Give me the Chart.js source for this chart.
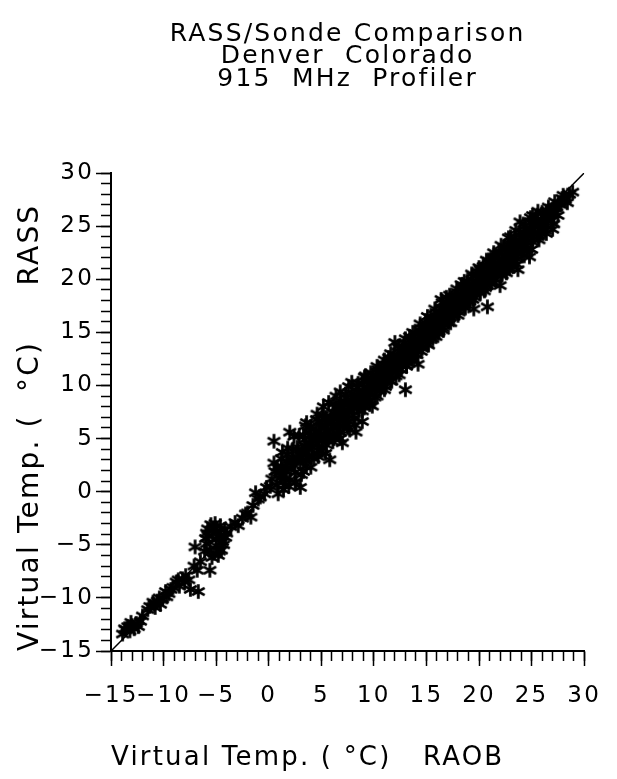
<!DOCTYPE html>
<html><head><meta charset="utf-8">
<script src="https://cdn.jsdelivr.net/npm/chart.js@4/dist/chart.umd.min.js"></script>
<style>html,body{margin:0;padding:0;background:#fff;}canvas{display:block;}</style>
</head><body>
<canvas id="c" width="617" height="779"></canvas>
<script>
const titleLines = ['RASS/Sonde Comparison', 'Denver  Colorado', '915  MHz  Profiler'];
const xAxisTitle = 'Virtual Temp. ( \u00B0C)   RAOB';
const yAxisTitle = 'Virtual Temp. (  \u00B0C)     RASS';
const axisMin = -15, axisMax = 30;
const tickValues = [-15, -10, -5, 0, 5, 10, 15, 20, 25, 30];
const tickLabels = ['\u221215', '\u221210', '\u22125', '0', '5', '10', '15', '20', '25', '30'];
const oneToOneX = [-15, 30];
const oneToOneY = [-15, 30];

// cold end (below about -3 C)
const raobCold = [-13.9,-13.6,-13.4,-13.2,-13.0,-12.8,-12.6,-12.4,-12.0,-11.3,
  -11.0,-10.8,-10.6,-10.3,-10.1,-9.8,-9.5,-9.1,-8.8,-8.5,
  -8.2,-7.9,-7.6,-7.45,-6.7,-7.1,-6.8,-6.5,-5.6,-7.0,
  -5.8,-5.5,-5.1,-4.6,-4.2,-5.7,-5.9,-5.6,-5.2,-4.7,
  -4.3,-4.1,-5.0,-5.3,-4.6,-4.5,-5.4,-4.9,-6.1,-5.0,
  -13.7,-13.1,-12.2,-11.5,-10.9,-10.4,-9.7,-9.3,-8.6,-8.0,
  -5.9,-4.4,-5.2,-4.8,-6.0,-4.0];
const rassCold = [-13.4,-13.0,-12.7,-13.1,-12.6,-12.9,-12.4,-12.7,-11.7,-10.8,
  -10.4,-10.9,-10.3,-10.6,-10.1,-9.4,-9.6,-9.0,-8.5,-8.9,
  -8.2,-7.9,-8.3,-9.2,-9.4,-7.0,-7.4,-6.6,-7.4,-5.2,
  -3.5,-3.1,-3.0,-3.2,-3.6,-4.2,-4.9,-5.5,-5.8,-5.6,
  -5.0,-4.3,-4.5,-4.0,-4.1,-5.5,-6.2,-3.7,-5.6,-5.1,
  -12.9,-12.3,-12.2,-11.1,-10.6,-10.0,-9.9,-9.2,-8.3,-8.5,
  -3.9,-4.7,-3.4,-6.0,-4.4,-3.9];

// main band including the scattered points
const raobBand = [-3.6,-3.2,-2.9,-2.5,-2.2,-2.0,-1.7,-1.5,-1.25,-1.0,
  -0.8,-0.4,-0.2,0.15,0.3,0.5,0.5,0.8,1.0,1.2,
  1.4,1.6,1.8,2.0,2.1,2.3,2.5,2.7,3.0,3.0,
  3.2,3.4,3.6,3.5,3.8,4.0,4.1,4.3,4.55,4.5,
  4.7,4.9,5.0,5.2,5.3,5.5,5.6,5.8,5.9,6.1,
  6.2,6.4,6.5,6.7,6.8,7.0,7.0,7.2,7.3,7.5,
  7.6,7.7,7.9,8.0,8.2,8.3,8.4,8.6,8.7,8.9,
  9.0,9.2,9.3,9.5,9.6,9.85,9.9,10.1,10.2,10.4,
  10.6,10.7,10.9,11.0,11.2,11.4,11.5,11.7,11.8,12.0,
  12.0,12.2,12.4,12.5,12.7,12.8,13.0,13.0,13.1,13.3,
  13.4,13.6,13.7,13.9,14.0,14.2,14.2,14.4,14.5,14.7,
  14.8,15.0,15.1,15.3,15.5,15.6,15.8,15.9,16.1,16.2,
  16.4,16.4,16.6,16.7,16.9,16.9,17.1,17.2,17.4,17.5,
  17.7,17.8,18.0,18.1,18.3,18.4,18.6,18.7,18.9,19.0,
  19.2,19.4,19.5,19.6,19.8,19.9,20.1,20.2,20.4,20.5,
  20.7,20.8,20.9,21.1,21.2,21.4,21.6,21.7,21.9,22.0,
  22.1,22.3,22.5,22.6,22.8,22.9,23.0,23.2,23.3,23.5,
  23.6,23.7,23.9,23.9,24.1,24.3,24.5,24.8,24.8,25.1,
  25.2,25.4,25.6,25.9,26.1,26.4,26.4,26.7,27.0,27.2,
  27.6,27.9,28.2,28.6,28.9];
const rassBand = [-3.3,-2.9,-3.2,-2.5,-2.1,-2.0,-2.4,-1.3,-0.1,-0.7,
  -0.5,-0.2,0.4,0.5,1.2,2.7,4.75,0.6,1.8,2.4,
  0.2,1.2,3.5,5.6,2.2,3.0,1.8,4.2,0.4,2.8,
  3.6,4.9,6.5,2.4,3.3,5.2,4.2,3.1,6.8,5.6,
  4.5,3.8,6.1,8.0,5.1,4.4,6.6,3.0,5.8,7.4,
  5.0,9.0,6.3,7.8,5.6,4.6,7.0,8.4,6.4,7.6,
  9.9,5.8,8.6,7.2,8.9,5.6,7.9,9.4,8.2,6.6,
  9.0,10.9,8.5,9.8,9.1,8.05,10.4,9.6,10.8,10.1,
  11.2,9.9,10.7,11.6,10.5,11.9,11.0,12.4,11.3,14.05,
  12.0,11.6,12.8,12.1,13.4,12.5,9.6,13.1,12.2,13.8,
  12.9,14.2,13.2,14.0,13.4,12.0,14.6,13.9,15.1,14.2,
  15.4,14.7,15.6,14.6,15.9,15.0,16.3,15.2,16.0,15.1,
  18.1,16.6,15.8,16.9,18.3,16.2,17.4,16.4,17.8,16.9,
  18.4,17.1,18.1,17.3,19.5,18.2,17.6,18.9,18.0,19.4,
  18.4,19.8,17.2,18.9,20.3,19.2,20.9,19.6,20.4,18.9,
  21.2,17.4,20.0,21.6,19.7,20.8,22.2,20.4,21.4,19.4,
  22.5,21.0,22.2,20.6,23.2,21.8,24.0,22.6,21.2,23.4,
  22.1,20.9,25.4,23.9,22.8,24.4,23.4,22.1,24.8,26.0,
  24.3,25.4,24.0,25.6,24.9,26.4,25.0,26.3,24.7,26.7,
  27.1,27.6,27.5,28.0,28.2];

// dense core near the 1:1 line
const raobCore = [1.1,1.3,1.5,1.7,1.9,2.2,2.4,2.6,2.8,3.1,
  3.3,3.5,3.7,3.9,4.1,4.3,4.4,4.6,4.8,5.0,
  5.1,5.3,5.5,5.7,5.8,6.0,6.2,6.3,6.5,6.6,
  6.8,7.0,7.1,7.3,7.5,7.6,7.8,8.0,8.1,8.3,
  8.5,8.6,8.8,9.0,9.1,9.3,9.5,9.7,9.8,10.0,
  10.2,10.3,10.5,10.7,10.8,11.0,11.2,11.3,11.5,11.7,
  11.8,12.0,12.2,12.3,12.5,12.7,12.8,13.0,13.2,13.3,
  13.5,13.7,13.8,14.0,14.2,14.3,14.5,14.7,14.8,15.0,
  15.2,15.3,15.5,15.7,15.8,16.0,16.2,16.3,16.5,16.7,
  16.8,17.0,17.2,17.3,17.5,17.7,17.8,18.0,18.2,18.3,
  18.5,18.7,18.8,19.0,19.2,19.3,19.5,19.7,19.8,20.0,
  20.2,20.3,20.5,20.7,20.8,21.0,21.2,21.3,21.5,21.7,
  21.8,22.0,22.2,22.4,22.6,22.8,23.0,23.2,23.4,23.6,
  23.8,24.0,24.2,24.4,24.6,24.9,25.1,25.3,25.6,25.8,
  26.0,26.2,26.5,26.8,27.1,27.4,27.8];
const rassCore = [1.3,1.6,2.0,1.9,2.6,2.9,2.5,3.3,3.1,3.9,
  3.4,4.3,4.0,4.6,4.9,4.4,5.3,5.0,5.7,5.4,
  4.8,6.1,5.7,6.4,5.3,6.6,6.1,7.0,6.9,7.4,
  6.7,7.5,7.9,7.2,8.2,7.5,8.0,8.5,8.1,8.7,
  8.3,9.0,8.8,9.5,9.2,9.7,9.3,10.1,9.7,10.3,
  10.0,10.6,10.4,10.9,10.5,11.1,11.3,11.0,11.7,11.5,
  12.0,11.8,12.3,12.0,12.6,12.4,13.0,12.8,13.3,13.0,
  13.6,13.5,13.9,13.8,14.3,14.0,14.6,14.5,14.9,15.0,
  15.3,15.1,15.5,15.5,15.9,15.8,16.3,16.0,16.4,16.4,
  16.9,16.8,17.2,17.0,17.5,17.4,17.8,17.7,18.2,17.9,
  18.5,18.3,18.7,18.7,19.2,18.9,19.4,19.2,19.7,19.6,
  20.1,19.8,20.0,20.3,20.7,20.3,21.0,20.7,21.2,21.0,
  21.5,21.2,21.8,21.5,22.0,22.4,22.1,23.0,22.7,23.2,
  23.0,23.6,23.3,23.8,24.2,23.9,24.6,25.0,25.1,24.7,
  25.5,25.9,25.6,26.1,26.2,26.8,27.0];

// points along both edges of the band
const raobEdge = [0.6,0.9,1.2,1.5,1.7,2.0,2.3,2.5,2.8,3.1,
  3.3,3.6,3.8,4.1,4.3,4.6,4.8,5.1,5.4,5.6,
  5.9,6.1,6.4,6.6,6.9,7.1,7.4,7.6,7.9,8.1,
  8.4,8.6,8.9,9.1,9.4,9.6,9.9,10.1,10.4,10.6,
  10.9,11.1,11.4,11.6,11.9,12.1,12.4,12.6,12.9,13.1,
  13.4,13.6,13.9,14.1,14.4,14.6,14.9,15.1,15.4,15.6,
  15.9,16.1,16.4,16.6,16.9,17.1,17.4,17.6,17.9,18.1,
  18.4,18.6,18.9,19.1,19.4,19.6,19.9,20.1,20.4,20.6,
  20.9,21.1,21.4,21.6,21.9,22.1,22.4,22.6,22.9,23.1,
  23.4,23.6,23.9,24.1,24.4,24.6,24.9,25.1,25.4,25.7,
  26.0,26.3,26.6,26.9,27.2,27.5,28.0,28.4];
const rassEdge = [1.9,-0.2,3.1,0.6,2.9,1.1,4.0,0.9,3.9,1.6,
  5.3,2.9,5.6,3.4,5.9,3.6,6.6,4.1,7.0,4.9,
  7.1,5.2,7.9,5.7,8.5,6.2,8.8,6.6,9.3,6.9,
  9.8,7.6,10.1,8.0,10.6,8.5,11.0,8.9,11.5,9.5,
  12.0,9.9,12.6,10.4,12.9,10.9,13.5,11.5,14.0,11.9,
  14.6,12.5,14.9,12.9,15.4,13.5,15.9,13.9,16.4,14.4,
  16.9,14.9,17.3,15.4,17.8,15.9,18.3,16.5,18.8,16.9,
  19.3,17.4,19.8,17.9,20.3,18.3,20.7,18.8,21.2,19.2,
  21.7,19.6,22.1,20.0,22.6,20.4,23.0,21.0,23.4,21.5,
  23.9,21.9,24.4,22.4,25.0,22.9,25.4,23.5,25.9,24.1,
  26.3,24.6,26.8,25.5,27.3,26.0,27.9,27.2];

// outer rim of the band (upper then lower side)
const raobRim = [0.8,1.3,1.8,2.4,2.9,3.5,4.0,4.6,5.1,5.7,
  6.2,6.8,7.3,7.9,8.5,9.1,9.7,10.3,11.0,11.6,
  12.3,13.0,13.7,14.4,15.1,15.8,16.5,17.2,17.9,18.6,
  19.3,20.0,20.7,21.4,22.1,22.8,23.5,24.2,24.9,25.6,
  1.9,2.6,3.3,4.0,4.7,5.4,6.1,6.8,7.5,8.2,
  8.9,9.6,10.3,11.0,11.7,12.4,13.1,13.8,14.5,15.2,
  15.9,16.6,17.3,18.0,18.7,19.4,20.1,20.8,21.5,22.2,
  22.9,23.6,24.3,25.0,25.7,26.4,27.1];
const rassRim = [2.3,3.7,4.1,5.2,5.3,6.2,6.1,7.3,7.2,8.4,
  8.3,9.4,9.2,10.3,10.2,10.8,11.2,11.8,12.4,13.0,
  13.7,14.4,15.0,15.8,16.5,17.2,17.8,18.5,19.1,19.8,
  20.5,21.1,21.8,22.5,23.2,23.9,24.6,25.2,25.8,26.4,
  0.5,0.9,1.9,2.3,3.3,3.6,4.7,5.0,6.0,6.3,
  7.6,8.2,9.0,9.6,10.4,11.0,11.8,12.4,13.2,13.8,
  14.6,15.2,15.9,16.6,17.3,18.1,18.7,19.4,20.0,20.4,
  21.0,21.4,22.2,22.8,23.7,24.3,25.2];

const FONT = "'DejaVu Sans', 'Liberation Sans', sans-serif";
Chart.defaults.font.family = FONT;
Chart.defaults.color = '#000';

function pairUp(xs, ys) { return xs.map((x, i) => ({ x: x, y: ys[i] })); }
const points = [].concat(pairUp(raobCold, rassCold), pairUp(raobBand, rassBand),
  pairUp(raobCore, rassCore), pairUp(raobEdge, rassEdge), pairUp(raobRim, rassRim));
const linePts = pairUp(oneToOneX, oneToOneY);

function makeAsterisk() {
  const s = 17, c = document.createElement('canvas');
  c.width = s; c.height = s;
  const g = c.getContext('2d');
  g.strokeStyle = '#000'; g.lineWidth = 2.8;
  const r = 7.3, cx = s / 2, cy = s / 2;
  for (let k = 0; k < 3; k++) {
    const a = Math.PI / 2 + k * Math.PI / 3;
    g.beginPath();
    g.moveTo(cx - r * Math.cos(a), cy - r * Math.sin(a));
    g.lineTo(cx + r * Math.cos(a), cy + r * Math.sin(a));
    g.stroke();
  }
  return c;
}
const asterisk = makeAsterisk();

function tickText(v) { const i = tickValues.indexOf(v); return i >= 0 ? tickLabels[i] : ''; }

const SPACING = '2.2px';
const spacingPlugin = {
  id: 'letterSpacing',
  beforeUpdate(chart) { chart.ctx.letterSpacing = SPACING; },
  beforeDraw(chart) { chart.ctx.letterSpacing = SPACING; },
  afterLayout(chart) {
    const ca = chart.chartArea;
    const xm = chart.scales.xMinor, ym = chart.scales.yMinor;
    if (xm) { xm.top = ca.bottom; xm.bottom = ca.bottom; xm._gridLineItems = null; }
    if (ym) { ym.left = ca.left; ym.right = ca.left; ym._gridLineItems = null; }
  }
};

new Chart(document.getElementById('c'), {
  type: 'scatter',
  data: {
    datasets: [
      { label: 'RASS vs RAOB', data: points, pointStyle: asterisk, pointRadius: 7, showLine: false, order: 1 },
      { label: '1:1', type: 'line', data: linePts, showLine: true, pointRadius: 0, borderColor: '#000', borderWidth: 1.5, fill: false, order: 2 }
    ]
  },
  options: {
    responsive: false,
    animation: false,
    events: [],
    layout: { padding: { left: 0, right: 25, top: 0, bottom: 0 } },
    plugins: {
      legend: { display: false },
      tooltip: { enabled: false },
      title: {
        display: true, text: titleLines, fullSize: false, align: 'center', color: '#000',
        font: { family: FONT, size: 25, weight: 'normal', lineHeight: 0.9 },
        padding: { top: 23, bottom: 82.5 }
      }
    },
    scales: {
      x: {
        type: 'linear', position: 'bottom', min: axisMin, max: axisMax, weight: 1,
        ticks: { stepSize: 5, autoSkip: false, maxRotation: 0, padding: 16, color: '#000', font: { size: 23 }, callback: tickText },
        grid: { drawOnChartArea: false, drawTicks: true, tickLength: 15, tickColor: '#000', tickWidth: 1.5 },
        border: { display: true, color: '#000', width: 2 },
        title: { display: true, text: xAxisTitle, align: 'start', color: '#000', font: { size: 26 }, padding: { top: 0, bottom: 5 } },
        afterFit(s) { s.height = 128; }
      },
      xMinor: {
        type: 'linear', position: 'bottom', display: true, min: axisMin, max: axisMax, weight: 0,
        ticks: { stepSize: 1, display: false, autoSkip: false },
        grid: { display: true, drawOnChartArea: false, drawTicks: true, tickLength: 10, tickColor: '#000', tickWidth: 1.5 },
        border: { display: false },
        afterFit(s) { s.height = 0; }
      },
      y: {
        type: 'linear', position: 'left', min: axisMin, max: axisMax, weight: 1,
        ticks: { stepSize: 5, autoSkip: false, padding: 2, color: '#000', font: { size: 23 }, callback: tickText },
        grid: { drawOnChartArea: false, drawTicks: true, tickLength: 15, tickColor: '#000', tickWidth: 1.5 },
        border: { display: true, color: '#000', width: 2 },
        title: { display: true, text: yAxisTitle, align: 'start', color: '#000', font: { size: 28 }, padding: { top: 14, bottom: 0 } },
        afterFit(s) { s.width = 111; }
      },
      yMinor: {
        type: 'linear', position: 'left', display: true, min: axisMin, max: axisMax, weight: 0,
        ticks: { stepSize: 1, display: false, autoSkip: false },
        grid: { display: true, drawOnChartArea: false, drawTicks: true, tickLength: 10, tickColor: '#000', tickWidth: 1.5 },
        border: { display: false },
        afterFit(s) { s.width = 0; }
      }
    }
  },
  plugins: [spacingPlugin]
});
</script>
</body></html>
